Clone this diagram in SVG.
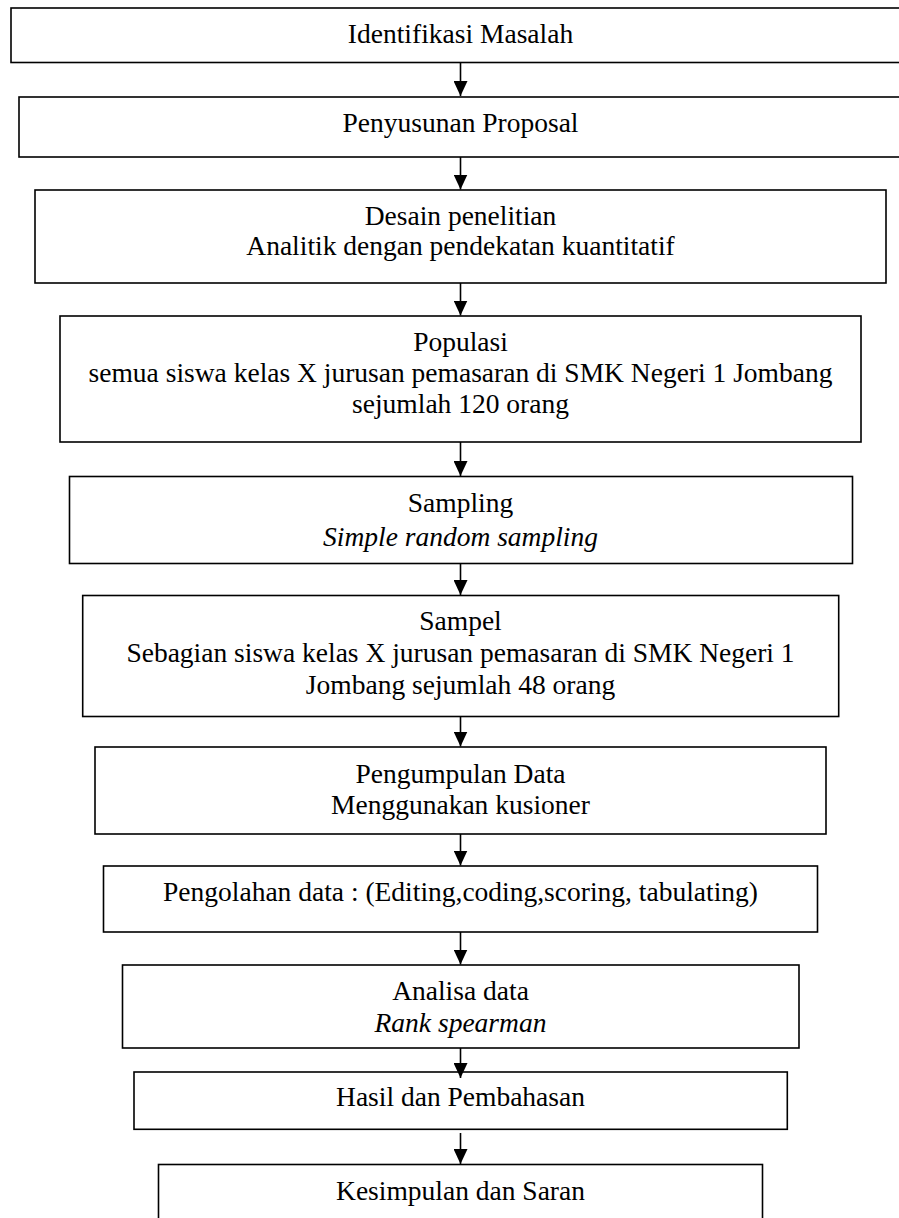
<svg xmlns="http://www.w3.org/2000/svg" width="899" height="1218" viewBox="0 0 899 1218">
<style>
.box{fill:#fff;stroke:#000;stroke-width:1.6}
.t{font-family:"Liberation Serif","Times New Roman",serif;font-size:27.5px;fill:#000;text-anchor:middle}
.i{font-style:italic}
.c{stroke:#000;stroke-width:1.6;fill:none}
</style>
<defs>
<marker id="ah" viewBox="0 0 15 14" refX="15" refY="7" markerWidth="15" markerHeight="14" markerUnits="userSpaceOnUse" orient="auto">
<path d="M0,0 L15,7 L0,14 z" fill="#000"/>
</marker>
</defs>
<rect width="899" height="1218" fill="#fff"/>
<g id="n1"><rect class="box" x="11" y="8" width="900" height="54.5"/><text class="t" x="460.5" y="43">Identifikasi Masalah</text></g>
<g id="n2"><rect class="box" x="19" y="97" width="890" height="60"/><text class="t" x="460.5" y="132">Penyusunan Proposal</text></g>
<g id="n3"><rect class="box" x="35" y="190" width="851" height="93"/><text class="t" x="460.5" y="225">Desain penelitian</text><text class="t" x="460.5" y="255">Analitik dengan pendekatan kuantitatif</text></g>
<g id="n4"><rect class="box" x="60" y="316" width="801" height="126"/><text class="t" x="460.5" y="351">Populasi</text><text class="t" x="460.5" y="382">semua siswa kelas X jurusan pemasaran di SMK Negeri 1 Jombang</text><text class="t" x="460.5" y="413">sejumlah 120 orang</text></g>
<g id="n5"><rect class="box" x="69.5" y="476.5" width="783" height="87"/><text class="t" x="460.5" y="512">Sampling</text><text class="t i" x="460.5" y="545.5">Simple random sampling</text></g>
<g id="n6"><rect class="box" x="82.7" y="595.5" width="756" height="121"/><text class="t" x="460.5" y="630">Sampel</text><text class="t" x="460.5" y="662">Sebagian siswa kelas X jurusan pemasaran di SMK Negeri 1</text><text class="t" x="460.5" y="693.5">Jombang sejumlah 48 orang</text></g>
<g id="n7"><rect class="box" x="95" y="747" width="731" height="87"/><text class="t" x="460.5" y="782.5">Pengumpulan Data</text><text class="t" x="460.5" y="814">Menggunakan kusioner</text></g>
<g id="n8"><rect class="box" x="103.5" y="866" width="714" height="66"/><text class="t" x="460.5" y="901">Pengolahan data : (Editing,coding,scoring, tabulating)</text></g>
<g id="n9"><rect class="box" x="122.5" y="965" width="676.5" height="83"/><text class="t" x="460.5" y="999.5">Analisa data</text><text class="t i" x="460.5" y="1031.5">Rank spearman</text></g>
<g id="n10"><rect class="box" x="134" y="1072" width="653.3" height="57.3"/><text class="t" x="460.5" y="1106">Hasil dan Pembahasan</text></g>
<g id="n11"><rect class="box" x="158.5" y="1164.5" width="604" height="70"/><text class="t" x="460.5" y="1199.5">Kesimpulan dan Saran</text></g>
<g id="connectors">
<line class="c" x1="460.5" y1="62.5" x2="460.5" y2="96" marker-end="url(#ah)"/>
<line class="c" x1="460.5" y1="157" x2="460.5" y2="189.5" marker-end="url(#ah)"/>
<line class="c" x1="460.5" y1="283" x2="460.5" y2="315.5" marker-end="url(#ah)"/>
<line class="c" x1="460.5" y1="442" x2="460.5" y2="476" marker-end="url(#ah)"/>
<line class="c" x1="460.5" y1="563.5" x2="460.5" y2="595" marker-end="url(#ah)"/>
<line class="c" x1="460.5" y1="716.5" x2="460.5" y2="746.5" marker-end="url(#ah)"/>
<line class="c" x1="460.5" y1="834" x2="460.5" y2="865.5" marker-end="url(#ah)"/>
<line class="c" x1="460.5" y1="932" x2="460.5" y2="964.5" marker-end="url(#ah)"/>
<line class="c" x1="460.5" y1="1048" x2="460.5" y2="1078" marker-end="url(#ah)"/>
<line class="c" x1="460.5" y1="1133" x2="460.5" y2="1164" marker-end="url(#ah)"/>
</g>
</svg>
